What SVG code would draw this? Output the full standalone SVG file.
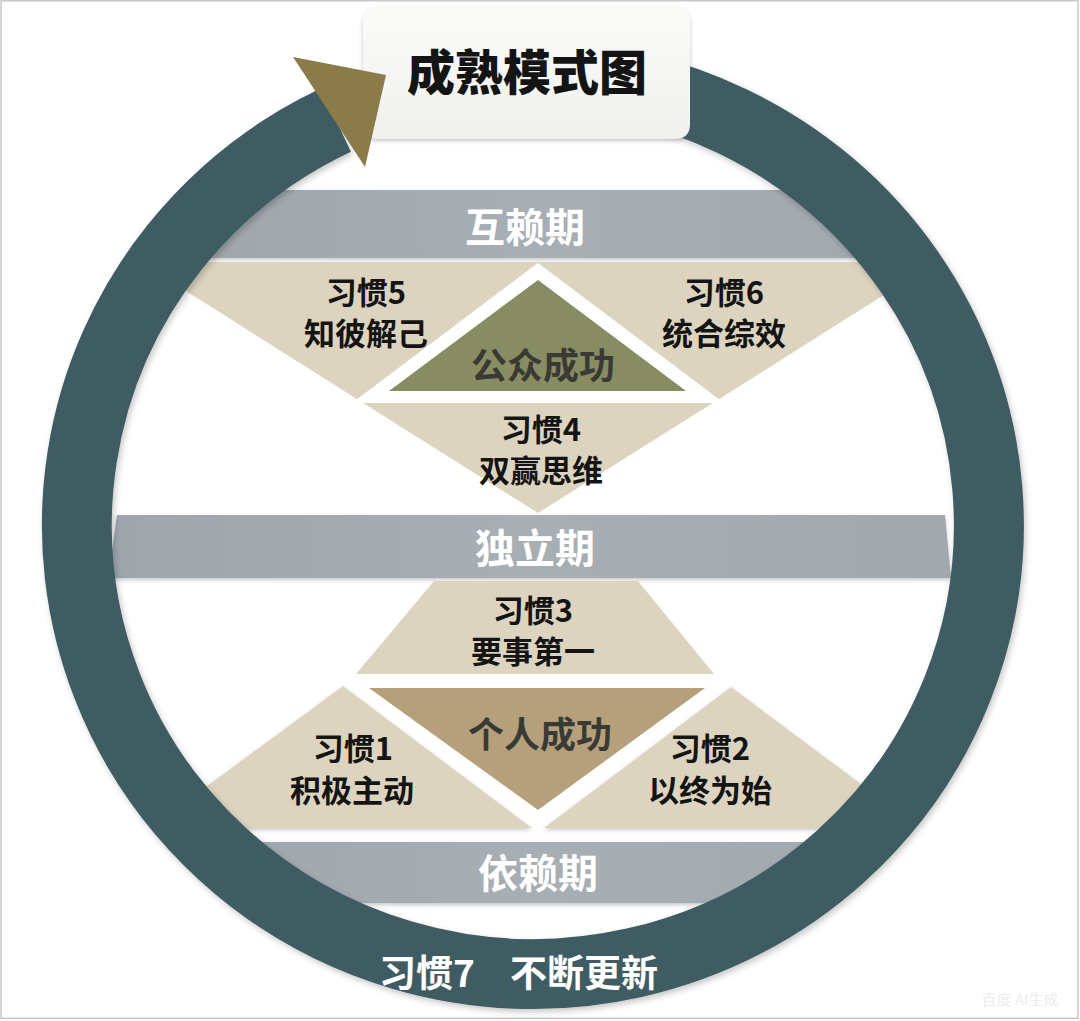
<svg xmlns="http://www.w3.org/2000/svg" width="1080" height="1021" viewBox="0 0 1080 1021">
<style>
text{font-family:"Noto Sans CJK SC","Noto Sans",sans-serif;font-weight:700;text-anchor:middle}
.ink{fill:#141414}
.habit{font-size:31px}
.band-t{font-size:40px;fill:#ffffff}
.core{font-size:36px;fill:#3a3a34}
.tan{fill:#ddd4c0}
.band{fill:url(#gBand)}
</style>
<defs>
<linearGradient id="gBand" x1="0" y1="0" x2="1" y2="0">
<stop offset="0" stop-color="#9ea5ac"/><stop offset="0.5" stop-color="#a7aeb4"/><stop offset="1" stop-color="#a1a8ae"/>
</linearGradient>
<linearGradient id="gTitle" x1="0" y1="0" x2="0" y2="1">
<stop offset="0" stop-color="#fbfbfa"/><stop offset="1" stop-color="#f0f0ee"/>
</linearGradient>
<filter id="sh" x="-10%" y="-10%" width="120%" height="130%">
<feDropShadow dx="0" dy="2" stdDeviation="2" flood-color="#000" flood-opacity="0.22"/>
</filter>
<filter id="shRing" filterUnits="userSpaceOnUse" x="0" y="0" width="1080" height="1021">
<feDropShadow dx="2" dy="3" stdDeviation="3" flood-color="#000" flood-opacity="0.22"/>
</filter>
<clipPath id="inside"><ellipse cx="532" cy="525" rx="450" ry="442"/></clipPath>
<clipPath id="noBox"><path clip-rule="evenodd" d="M0 0H1080V1021H0Z M378 7H675Q690 7 690 22V124Q690 139 675 139H378Q363 139 363 124V22Q363 7 378 7Z"/></clipPath>
</defs>
<rect width="1080" height="1021" fill="#ffffff"/>
<rect x="1" y="0.75" width="1077" height="1017.5" fill="none" stroke="#c9c9c9" stroke-width="1.5"/>

<g clip-path="url(#inside)">
<g id="band-interdependence">
<rect class="band" x="150" y="190" width="780" height="68" filter="url(#sh)"/>
<text class="band-t" x="525" y="242">互赖期</text>
</g>
<g id="habit-5">
<polygon class="tan" points="140,262 540,262 363,403"/>
<text class="habit ink"><tspan x="366" y="304">习惯5</tspan><tspan x="366" dy="41">知彼解己</tspan></text>
</g>
<g id="habit-6">
<polygon class="tan" points="536,262 936,262 713,403"/>
<text class="habit ink"><tspan x="724" y="304">习惯6</tspan><tspan x="724" dy="41">统合综效</tspan></text>
</g>
<g id="habit-4">
<polygon class="tan" points="352,396 724,396 538,513"/>
<text class="habit ink"><tspan x="541" y="441">习惯4</tspan><tspan x="541" dy="41">双赢思维</tspan></text>
</g>
<g id="public-success">
<polygon fill="#ffffff" points="538,263 352,403 724,403"/>
<polygon fill="#878c62" points="538,280 389,391 686,391"/>
<text class="core" x="543" y="379">公众成功</text>
</g>
<g id="band-independence">
<polygon class="band" points="117,515 945,515 951,578 108,578" filter="url(#sh)"/>
<text class="band-t" x="535" y="563">独立期</text>
</g>
<g id="habit-3">
<polygon class="tan" points="434,581 638,581 714,674 356,674"/>
<text class="habit ink"><tspan x="533" y="622">习惯3</tspan><tspan x="533" dy="41">要事第一</tspan></text>
</g>
<g id="habit-1">
<polygon class="tan" points="343,686 532,828 150,828" filter="url(#sh)"/>
<text class="habit ink"><tspan x="353" y="760">习惯1</tspan><tspan x="352" dy="42">积极主动</tspan></text>
</g>
<g id="habit-2">
<polygon class="tan" points="731,687 920,828 544,828" filter="url(#sh)"/>
<text class="habit ink"><tspan x="710" y="760">习惯2</tspan><tspan x="710" dy="42">以终为始</tspan></text>
</g>
<g id="private-success">
<polygon fill="#b6a07b" points="369,688 705,688 538,810"/>
<text class="core" x="540" y="748">个人成功</text>
</g>
<g id="band-dependence">
<rect class="band" x="150" y="842" width="780" height="61" filter="url(#sh)"/>
<text class="band-t" x="538" y="888">依赖期</text>
</g>
</g>

<g id="title">
<rect x="363" y="7" width="327" height="132" rx="15" fill="url(#gTitle)" filter="url(#sh)"/>
<text class="ink" x="527" y="90" style="font-size:48px;font-weight:900">成熟模式图</text>
</g>

<g id="connectors">
<path clip-path="url(#noBox)" d="M532 76A456 449 0 1 1 336 120" fill="none" stroke="#3f5b64" stroke-width="70" filter="url(#shRing)"/>
<polygon points="293,57 386,75 365,167" fill="#8b7b4b"/>
</g>

<g id="habit-7">
<text style="font-size:37px;fill:#ffffff" y="987"><tspan x="427">习惯7</tspan><tspan x="584">不断更新</tspan></text>
</g>

<text x="1020" y="1005" style="font-size:15px;fill:#ececec;font-weight:400">百度 AI生成</text>
</svg>
